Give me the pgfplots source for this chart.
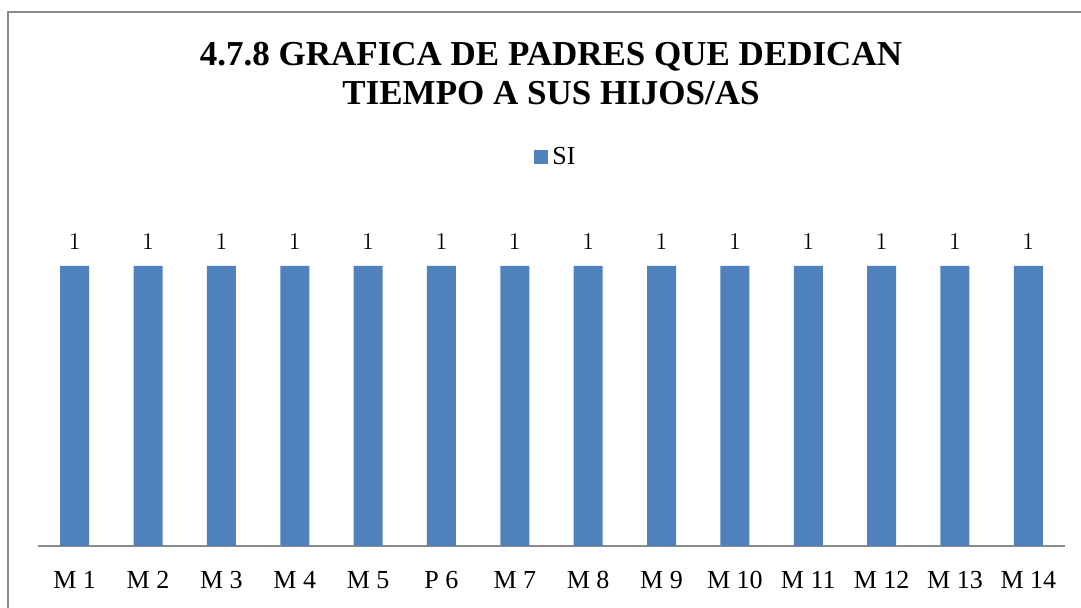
\documentclass[border=0pt]{standalone}
\usepackage{pgfplots}
\pgfplotsset{compat=1.18}
\usepackage{fontspec}
\setmainfont{Liberation Serif}
\definecolor{barblue}{HTML}{4F81BD}
\definecolor{framegray}{HTML}{8C8C8C}
\begin{document}
\begin{tikzpicture}[x=0.5pt,y=0.5pt]
\useasboundingbox (0,0) rectangle (1081,608);
\draw[framegray, line width=1.2pt] (8,0) -- (8,596) -- (1081,596);
\node[font=\fontsize{17.5}{19.5}\selectfont\bfseries, align=center] at (551,534) {4.7.8 GRAFICA DE PADRES QUE DEDICAN\\TIEMPO A SUS HIJOS/AS};
\begin{axis}[
  at={(19pt,31pt)}, anchor=south west,
  scale only axis, width=513.5pt, height=168pt,
  xmin=-0.5, xmax=13.5, ymin=0, ymax=1.2,
  axis x line*=bottom, axis y line=none,
  x axis line style={framegray, line width=1pt, -},
  xtick=data, xtick style={draw=none},
  xticklabels={M 1,M 2,M 3,M 4,M 5,P 6,M 7,M 8,M 9,M 10,M 11,M 12,M 13,M 14},
  xticklabel style={font=\fontsize{13}{15}\selectfont, yshift=-5pt},
  ytick=\empty,
  ybar, bar width=14.5pt,
  nodes near coords,
  every node near coord/.append style={font=\fontsize{13}{15}\selectfont, yshift=4.5pt},
  legend style={at={(axis description cs:0.505,1.158)}, anchor=center, draw=none, font=\fontsize{13}{15}\selectfont, inner sep=0pt},
  legend image code/.code={\fill[barblue] (0cm,-0.13cm) rectangle (0.26cm,0.13cm);},
]
\addplot[fill=barblue, draw=none] coordinates {(0,1) (1,1) (2,1) (3,1) (4,1) (5,1) (6,1) (7,1) (8,1) (9,1) (10,1) (11,1) (12,1) (13,1)};
\addlegendentry{SI}
\end{axis}
\end{tikzpicture}
\end{document}
